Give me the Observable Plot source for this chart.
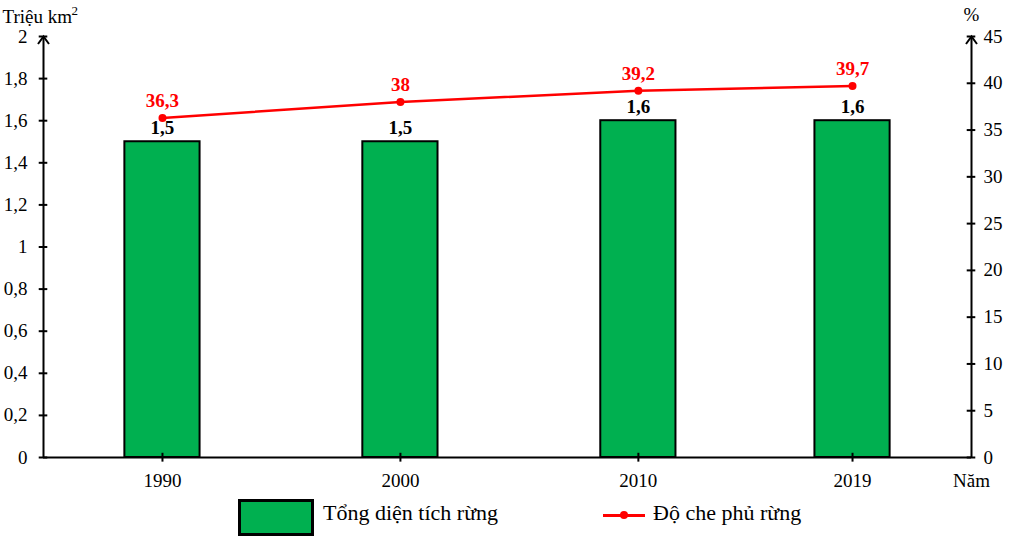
<!DOCTYPE html>
<html>
<head>
<meta charset="utf-8">
<script src="https://cdn.jsdelivr.net/npm/d3@7"></script>
<script src="https://cdn.jsdelivr.net/npm/@observablehq/plot@0.6"></script>
<style>
  html, body { margin: 0; padding: 0; background: #fff; }
  #wrap { width: 1017px; height: 539px; position: relative; font-family: "Liberation Serif", "Times New Roman", serif; }
  #legend { position: relative; width: 1017px; height: 49px; }
  .lg-box { position: absolute; left: 238px; top: 9px; width: 70px; height: 31px; background: #00B050; border: 3px solid #000; }
  .lg-t1 { position: absolute; left: 323px; top: 10px; font-size: 22px; }
  .lg-line { position: absolute; left: 603px; top: 24px; width: 42px; height: 3px; background: #FF0000; }
  .lg-dot { position: absolute; left: 620px; top: 21px; width: 8px; height: 8px; border-radius: 50%; background: #FF0000; }
  .lg-t2 { position: absolute; left: 653px; top: 10px; font-size: 22px; }
</style>
</head>
<body>
<div id="wrap">
  <div id="chart"></div>
  <div id="legend">
    <div class="lg-box"></div><div class="lg-t1">Tổng diện tích rừng</div>
    <div class="lg-line"></div><div class="lg-dot"></div><div class="lg-t2">Độ che phủ rừng</div>
  </div>
</div>
<script>
const years = [1990, 2000, 2010, 2019];
const area = [1.5, 1.5, 1.6, 1.6];
const cover = [36.3, 38, 39.2, 39.7];
const areaLabels = ["1,5", "1,5", "1,6", "1,6"];
const coverLabels = ["36,3", "38", "39,2", "39,7"];
const leftTicks = [0, 0.2, 0.4, 0.6, 0.8, 1, 1.2, 1.4, 1.6, 1.8, 2];
const leftTickLabels = ["0", "0,2", "0,4", "0,6", "0,8", "1", "1,2", "1,4", "1,6", "1,8", "2"];
const rightTicks = [0, 5, 10, 15, 20, 25, 30, 35, 40, 45];

const xMin = 1985, xMax = 2024;
const k = 2 / 45; // percent -> left axis units
const halfBar = 1.58;

const data = years.map((y, i) => ({year: y, area: area[i], cover: cover[i], aLab: areaLabels[i], cLab: coverLabels[i]}));
const lt = leftTicks.map((v, i) => ({v, lab: leftTickLabels[i]}));

const chevron = {
  draw(ctx) {
    ctx.moveTo(-5.5, 7.5);
    ctx.lineTo(0, 0);
    ctx.lineTo(5.5, 7.5);
  }
};

const chart = Plot.plot({
  width: 1017,
  height: 490,
  marginTop: 36,
  marginBottom: 33,
  marginLeft: 43,
  marginRight: 46,
  style: {fontFamily: "Liberation Serif, Times New Roman, serif", fontSize: "19px", background: "#fff", color: "#000"},
  x: {domain: [xMin, xMax], axis: null},
  y: {domain: [0, 2], axis: null},
  marks: [
    Plot.rectY(data, {x1: d => d.year - halfBar, x2: d => d.year + halfBar, y: "area", fill: "#00B050", stroke: "#000", strokeWidth: 2}),
    // bottom axis
    Plot.ruleY([0], {stroke: "#000", strokeWidth: 2}),
    Plot.ruleX(years, {y1: -0.022, y2: 0.02, stroke: "#000", strokeWidth: 2}),
    Plot.text(years, {x: d => d, y: 0, dy: 23, text: d => String(d), fontSize: 19}),
    Plot.text(["Năm"], {x: xMax, y: 0, dy: 23, text: d => d, fontSize: 19}),
    // left axis
    Plot.ruleX([xMin], {y1: 0, y2: 2, stroke: "#000", strokeWidth: 2}),
    Plot.dot([xMin], {x: d => d, y: 2, symbol: chevron, fill: "none", stroke: "#000", strokeWidth: 2}),
    Plot.ruleY(lt, {y: "v", x1: xMin - 0.18, x2: xMin + 0.18, stroke: "#000", strokeWidth: 2}),
    Plot.text(lt, {x: xMin, y: "v", text: "lab", dx: -16, textAnchor: "end", fontSize: 19}),
    Plot.text(["Triệu km"], {frameAnchor: "top-left", dx: -41, dy: -27, textAnchor: "start", text: d => d, fontSize: 19}),
    Plot.text(["2"], {frameAnchor: "top-left", dx: 28, dy: -31, textAnchor: "start", text: d => d, fontSize: 13}),
    // right axis
    Plot.ruleX([xMax], {y1: 0, y2: 2, stroke: "#000", strokeWidth: 2}),
    Plot.dot([xMax], {x: d => d, y: 2, symbol: chevron, fill: "none", stroke: "#000", strokeWidth: 2}),
    Plot.ruleY(rightTicks, {y: d => d * k, x1: xMax - 0.18, x2: xMax + 0.18, stroke: "#000", strokeWidth: 2}),
    Plot.text(rightTicks, {x: xMax, y: d => d * k, text: d => String(d), dx: 12, textAnchor: "start", fontSize: 19}),
    Plot.text(["%"], {x: xMax, y: 2, dy: -22, text: d => d, fontSize: 19}),
    // line series
    Plot.line(data, {x: "year", y: d => d.cover * k, stroke: "#FF0000", strokeWidth: 2.5}),
    Plot.dot(data, {x: "year", y: d => d.cover * k, r: 4, fill: "#FF0000"}),
    Plot.text(data, {x: "year", y: d => d.cover * k, text: "cLab", dy: -17, fill: "#FF0000", fontWeight: "bold", fontSize: 19}),
    Plot.text(data, {x: "year", y: "area", text: "aLab", dy: -14, fill: "#000", fontWeight: "bold", fontSize: 19})
  ]
});
document.getElementById("chart").appendChild(chart);
</script>
</body>
</html>
